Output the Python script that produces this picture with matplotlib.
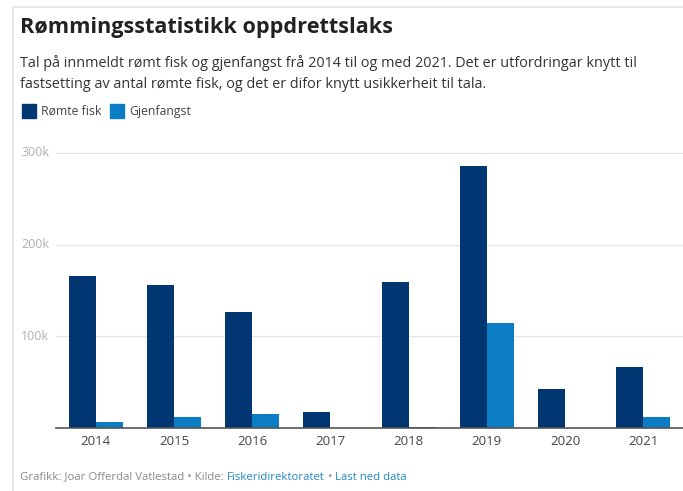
import numpy as np
import matplotlib.pyplot as plt
import matplotlib.transforms as mtransforms

# data (in fish)
years = ['2014', '2015', '2016', '2017', '2018', '2019', '2020', '2021']
romte = [166000, 156000, 126000, 17000, 159000, 286000, 43000, 66000]
gjenfangst = [6500, 12000, 15000, 0, 1000, 115000, 0, 12000]
yticks = [100000, 200000, 300000]
ytick_labels = ['100k', '200k', '300k']

dark = '#003772'
light = '#0a7dc4'
W, H = 683, 491

plt.rcParams['font.family'] = ['Open Sans', 'DejaVu Sans']

fig = plt.figure(figsize=(W / 100, H / 100), dpi=100)
fig.patch.set_facecolor('white')
renderer = fig.canvas.get_renderer()

def fx(px):
	return px / W

def fy(py):
	return 1 - py / H

def fit(t, width_px):
	# scale font so the text spans the same width as in the reference
	bb = t.get_window_extent(renderer)
	t.set_fontsize(t.get_fontsize() * width_px / bb.width)
	return t

# card border (top and left)
fig.add_artist(plt.Line2D([fx(13), 1], [fy(7), fy(7)], color='#e2e2e2', lw=1.2))
fig.add_artist(plt.Line2D([fx(13), fx(13)], [fy(7), 0], color='#e2e2e2', lw=1.2))

ax = fig.add_axes([fx(56), fy(428), fx(683) - fx(56), fy(140) - fy(428)])
x = np.arange(len(years))
w = 0.345
ax.bar(x - w / 2, romte, w, color=dark, zorder=3)
ax.bar(x + w / 2, gjenfangst, w, color=light, zorder=3)

ax.set_xlim(-0.51, len(years) - 0.49)
ax.set_ylim(0, 314000)
ax.set_xticks(x)
ax.set_xticklabels(years)
ax.tick_params(axis='x', length=0, pad=5, labelsize=9.5, labelcolor='#444444')
ax.set_yticks(yticks)
ax.set_yticklabels([])
ax.tick_params(axis='y', length=0)
ax.grid(axis='y', color='#e6e6e6', lw=1, zorder=0)
for s in ['top', 'right', 'left']:
	ax.spines[s].set_visible(False)
ax.spines['bottom'].set_color('#555555')
ax.spines['bottom'].set_linewidth(1.2)
ax.spines['bottom'].set_zorder(4)
ax.set_facecolor('none')

trans = mtransforms.blended_transform_factory(fig.transFigure, ax.transData)
for v, lab in zip(yticks, ytick_labels):
	ax.text(fx(21), v, lab, transform=trans, ha='left', va='center', fontsize=9, color='#b0b0b0')

# title, subtitle
t = fig.text(fx(20), fy(28), 'Rømmingsstatistikk oppdrettslaks', fontsize=14.5, fontweight='bold', color='#222222', va='center')
fit(t, 372)
t = fig.text(fx(20), fy(63), 'Tal på innmeldt rømt fisk og gjenfangst frå 2014 til og med 2021. Det er utfordringar knytt til',
		 fontsize=9.6, color='#333333', va='center')
fit(t, 620)
fig.text(fx(20), fy(84), 'fastsetting av antal rømte fisk, og det er difor knytt usikkerheit til tala.',
		 fontsize=t.get_fontsize(), color='#333333', va='center')

# legend
sq = 14
for px, col, lab in [(22, dark, 'Rømte fisk'), (110, light, 'Gjenfangst')]:
	fig.add_artist(plt.Rectangle((fx(px), fy(111 + sq / 2)), sq / W, sq / H, color=col, transform=fig.transFigure))
	fig.text(fx(px + sq + 5), fy(111), lab, fontsize=8.8, color='#444444', va='center')

# footer with coloured runs
runs = [('Grafikk: Joar Offerdal Vatlestad • Kilde: ', '#8a8a8a'),
		('Fiskeridirektoratet', '#1f87c8'),
		(' • ', '#8a8a8a'),
		('Last ned data', '#1f87c8')]
probe = fig.text(0, 0, ''.join(r[0] for r in runs), fontsize=7.3)
fit(probe, 388)
fsize = probe.get_fontsize()
probe.remove()
xpos = fx(20)
for txt, col in runs:
	t = fig.text(xpos, fy(477), txt, fontsize=fsize, color=col, va='center')
	bb = t.get_window_extent(renderer)
	xpos += bb.width / W

fig.savefig('out.png', dpi=100)
